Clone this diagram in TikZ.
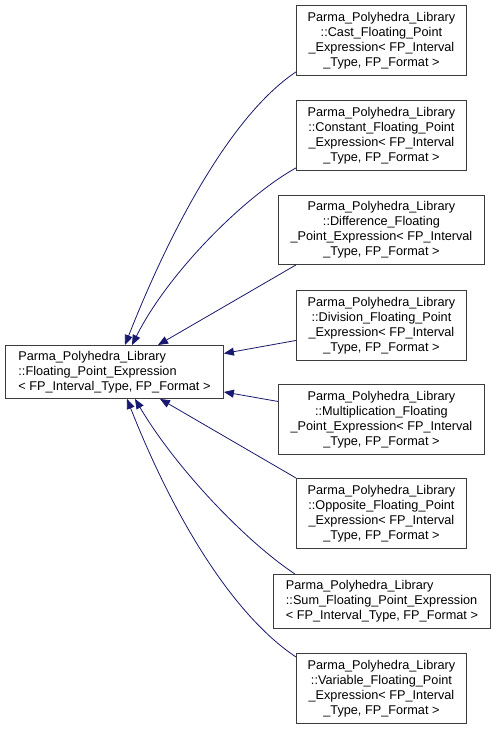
\documentclass[tikz,border=0pt]{standalone}
\usepackage{fontspec}
\setmainfont{Liberation Sans}
\usetikzlibrary{arrows.meta}
\definecolor{edgeblue}{RGB}{25,25,112}
\definecolor{boxline}{RGB}{60,60,60}
\begin{document}
\begin{tikzpicture}[x=1pt,y=-1pt,
  cls/.style={draw=boxline, line width=0.9pt, fill=white, anchor=north west, inner sep=0pt,
    font=\fontsize{12.7}{15}\selectfont, align=center},
  clsl/.style={cls, align=left},
  inh/.style={draw=edgeblue, line width=0.8pt, -{Triangle[length=10pt,width=8pt]}}]
\useasboundingbox (0,0) rectangle (496,731);
\fill[white] (0,0) rectangle (496,731);

\node[clsl, minimum width=218pt, minimum height=53pt] (base) at (5,345)
  {Parma\_Polyhedra\_Library\\::Floating\_Point\_Expression\\\textless{} FP\_Interval\_Type, FP\_Format \textgreater};

\node[cls, minimum width=170pt, minimum height=70pt] (cast) at (296,5)
  {Parma\_Polyhedra\_Library\\::Cast\_Floating\_Point\\\_Expression\textless{} FP\_Interval\\\_Type, FP\_Format \textgreater};
\node[cls, minimum width=170pt, minimum height=70pt] (const) at (296,100)
  {Parma\_Polyhedra\_Library\\::Constant\_Floating\_Point\\\_Expression\textless{} FP\_Interval\\\_Type, FP\_Format \textgreater};
\node[cls, minimum width=206pt, minimum height=69pt] (diff) at (278,195)
  {Parma\_Polyhedra\_Library\\::Difference\_Floating\\\_Point\_Expression\textless{} FP\_Interval\\\_Type, FP\_Format \textgreater};
\node[cls, minimum width=170pt, minimum height=70pt] (div) at (296,290)
  {Parma\_Polyhedra\_Library\\::Division\_Floating\_Point\\\_Expression\textless{} FP\_Interval\\\_Type, FP\_Format \textgreater};
\node[cls, minimum width=206pt, minimum height=70pt] (mult) at (278,384)
  {Parma\_Polyhedra\_Library\\::Multiplication\_Floating\\\_Point\_Expression\textless{} FP\_Interval\\\_Type, FP\_Format \textgreater};
\node[cls, minimum width=170pt, minimum height=70pt] (opp) at (296,478)
  {Parma\_Polyhedra\_Library\\::Opposite\_Floating\_Point\\\_Expression\textless{} FP\_Interval\\\_Type, FP\_Format \textgreater};
\node[clsl, minimum width=217pt, minimum height=54pt] (sum) at (273,574)
  {Parma\_Polyhedra\_Library\\::Sum\_Floating\_Point\_Expression\\\textless{} FP\_Interval\_Type, FP\_Format \textgreater};
\node[cls, minimum width=170pt, minimum height=70pt] (var) at (296,653)
  {Parma\_Polyhedra\_Library\\::Variable\_Floating\_Point\\\_Expression\textless{} FP\_Interval\\\_Type, FP\_Format \textgreater};

\draw[inh] ([yshift=4pt]cast.south west) .. controls +(-66,44) and +(44,-112) .. ([xshift=120pt]base.north west);
\draw[inh] ([yshift=3pt]const.south west) .. controls +(-52,29) and +(36,-72) .. ([xshift=127pt]base.north west);
\draw[inh] ([xshift=18pt]diff.south west) -- ([xshift=153pt]base.north west);
\draw[inh] ([yshift=-15pt]div.west) -- ([yshift=18.5pt]base.east);
\draw[inh] ([yshift=18pt]mult.west) -- ([yshift=-20pt]base.east);
\draw[inh] (opp.north west) -- ([xshift=155pt]base.south west);
\draw[inh] ([xshift=22pt]sum.north west) .. controls +(-50,-33) and +(40,68) .. ([xshift=130pt]base.south west);
\draw[inh] ([yshift=-4pt]var.north west) .. controls +(-66,-44) and +(44,112) .. ([xshift=122pt]base.south west);
\end{tikzpicture}
\end{document}
